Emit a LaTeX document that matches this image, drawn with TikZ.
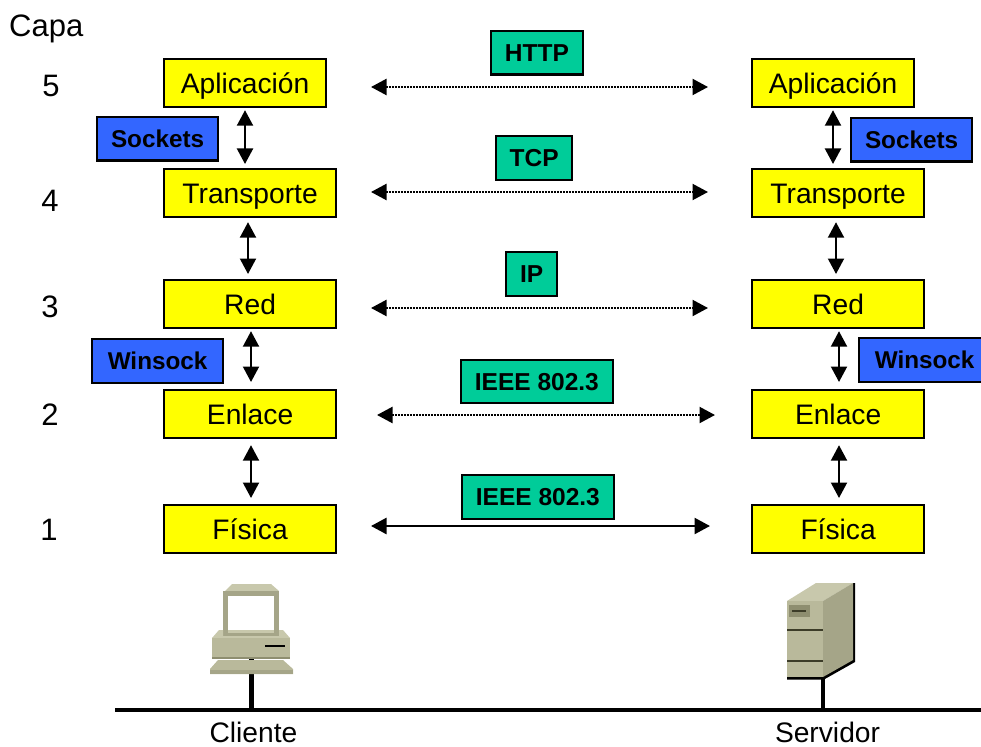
\documentclass[tikz,border=0pt]{standalone}
\usepackage{fontspec}
\setmainfont{Liberation Sans}
\usetikzlibrary{arrows.meta}
\definecolor{capa}{HTML}{FFFF00}
\definecolor{proto}{HTML}{00CC99}
\definecolor{api}{HTML}{3366FF}
\definecolor{pcA}{HTML}{B9B99B}
\definecolor{pcB}{HTML}{A5A588}
\definecolor{pcC}{HTML}{C8C8AC}
\definecolor{pcD}{HTML}{8E8E70}
\definecolor{pcE}{HTML}{3C3C28}
\tikzset{
 x=1pt,y=-1pt,
 boxbase/.style={draw=black,line width=2.2pt,inner sep=0pt,anchor=north west,align=center,text=black,text depth=0pt},
 layer/.style={boxbase,fill=capa,font=\fontsize{28.2}{30}\selectfont,minimum height=48pt,text height=20.2pt},
 proto box/.style={boxbase,fill=proto,font=\fontsize{24.5}{26}\selectfont\bfseries,minimum height=43.5pt,text height=17.5pt},
 api box/.style={boxbase,fill=api,font=\fontsize{24.3}{26}\selectfont\bfseries,minimum height=43.5pt,text height=17.4pt},
 plain/.style={inner sep=0pt,font=\fontsize{28.2}{30}\selectfont,text height=20.2pt,text depth=0pt},
 big/.style={plain,font=\fontsize{31}{33}\selectfont,text height=22.2pt},
 tips/.style={{Triangle[length=15.5pt,width=16pt]}-{Triangle[length=15.5pt,width=16pt]}},
 vert/.style={line width=2.1pt,tips},
 dotline/.style={line width=2.2pt,dash pattern=on 2pt off 1pt,tips},
 solidline/.style={line width=2.4pt,tips},
}
\begin{document}
\begin{tikzpicture}
\useasboundingbox (0,0) rectangle (981,746);
% layers left
\node[layer,minimum width=162pt] (a1) at (163,58) {Aplicación};
\node[layer,minimum width=172pt] (t1) at (163,168) {Transporte};
\node[layer,minimum width=172pt] (r1) at (163,279) {Red};
\node[layer,minimum width=172pt] (e1) at (163,389) {Enlace};
\node[layer,minimum width=172pt] (f1) at (163,504) {Física};
% layers right
\node[layer,minimum width=162pt] (a2) at (751,58) {Aplicación};
\node[layer,minimum width=172pt] (t2) at (751,168) {Transporte};
\node[layer,minimum width=172pt] (r2) at (751,279) {Red};
\node[layer,minimum width=172pt] (e2) at (751,389) {Enlace};
\node[layer,minimum width=172pt] (f2) at (751,504) {Física};
% protocols
\node[proto box,minimum width=91.5pt] (http) at (490,30) {HTTP};
\node[proto box,minimum width=76pt] (tcp) at (495,135) {TCP};
\node[proto box,minimum width=51pt] (ip) at (505,251) {IP};
\node[proto box,minimum width=151.5pt] (ie1) at (460,358.5) {IEEE 802.3};
\node[proto box,minimum width=151.5pt] (ie2) at (461,474) {IEEE 802.3};
% apis
\node[api box,minimum width=121pt] (s1) at (96,116) {Sockets};
\node[api box,minimum width=121pt] (s2) at (850,117) {Sockets};
\node[api box,minimum width=131pt] (w1) at (91,338) {Winsock};
\node[api box,minimum width=131pt] (w2) at (858,337) {Winsock};
% plain labels
\node[big,anchor=west] (capa) at (9,25) {Capa};
\node[big] (n5) at (51,85.5) {5};
\node[big] (n4) at (50,200) {4};
\node[big] (n3) at (50,306) {3};
\node[big] (n2) at (50,414) {2};
\node[big] (n1) at (49,529) {1};
\node[plain] (cli) at (253.5,732) {Cliente};
\node[plain] (srv) at (827.5,732) {Servidor};
% vertical arrows
\draw[vert] ([yshift=-2pt]a1.south -| 245,0) -- ([yshift=4pt]t1.north -| 245,0);
\draw[vert] ([yshift=-4pt]t1.south -| 248,0) -- ([yshift=5pt]r1.north -| 248,0);
\draw[vert] ([yshift=-2pt]r1.south -| 251,0) -- ([yshift=7pt]e1.north -| 251,0);
\draw[vert] ([yshift=-6pt]e1.south -| 251,0) -- ([yshift=6pt]f1.north -| 251,0);
\draw[vert] ([yshift=-2pt]a2.south -| 833,0) -- ([yshift=4pt]t2.north -| 833,0);
\draw[vert] ([yshift=-4pt]t2.south -| 836,0) -- ([yshift=5pt]r2.north -| 836,0);
\draw[vert] ([yshift=-2pt]r2.south -| 839,0) -- ([yshift=7pt]e2.north -| 839,0);
\draw[vert] ([yshift=-6pt]e2.south -| 839,0) -- ([yshift=6pt]f2.north -| 839,0);
% horizontal arrows
\coordinate (ha1) at (371,87); \coordinate (hb1) at (708,87);
\coordinate (ha2) at (371,192); \coordinate (hb2) at (708,192);
\coordinate (ha3) at (371,308); \coordinate (hb3) at (708,308);
\coordinate (ha4) at (377,415); \coordinate (hb4) at (715,415);
\coordinate (ha5) at (371,526); \coordinate (hb5) at (710,526);
\draw[dotline] (ha1) -- (hb1);
\draw[dotline] (ha2) -- (hb2);
\draw[dotline] (ha3) -- (hb3);
\draw[dotline] (ha4) -- (hb4);
\draw[solidline] (ha5) -- (hb5);
% network
\coordinate (busL) at (115,710); \coordinate (busR) at (981,710);
\coordinate (pcbase) at (251.5,658); \coordinate (srvbase) at (823,677);
\draw[line width=4.5pt] (pcbase |- busL) -- (pcbase);
\draw[line width=4.5pt] (srvbase |- busL) -- (srvbase);
\draw[line width=4.5pt] (busL) -- (busR);
% computer
\fill[pcC] (225,591) -- (232,584) -- (271,584) -- (279,591) -- cycle;
\fill[pcB] (223,591) rectangle (279,636);
\fill[white] (228,596) rectangle (274,630);
\fill[pcC] (228,630) rectangle (274,633);
\fill[pcC] (219,630) -- (223,630) -- (223,636) -- (279,636) -- (279,630) -- (283,630) -- (290,638) -- (212,638) -- cycle;
\fill[pcA] (212,638) rectangle (290,658);
\fill[pcD] (212,657) rectangle (290,658.5);
\fill[black] (265,645) rectangle (285,647);
\fill[pcA] (218,660) -- (283,660) -- (293,669) -- (293,674) -- (210,674) -- (210,669) -- cycle;
\fill[pcB] (210,670) rectangle (293,674);
% server
\fill[black] (787,677) -- (787,679.5) -- (824,679.5) -- (855,662) -- (855,583) -- (853,583) -- (853,660) -- cycle;
\fill[pcC] (787,601) -- (816,583) -- (853,583) -- (823,601) -- cycle;
\fill[pcB] (823,601) -- (853,583) -- (853,660) -- (823,677) -- cycle;
\fill[pcA] (787,601) rectangle (823,677);
\fill[pcD] (789,605) rectangle (810,617);
\fill[pcE] (792,610) rectangle (806,612);
\fill[pcE] (787,629) rectangle (823,631);
\fill[pcE] (787,660) rectangle (823,662);
\end{tikzpicture}
\end{document}
